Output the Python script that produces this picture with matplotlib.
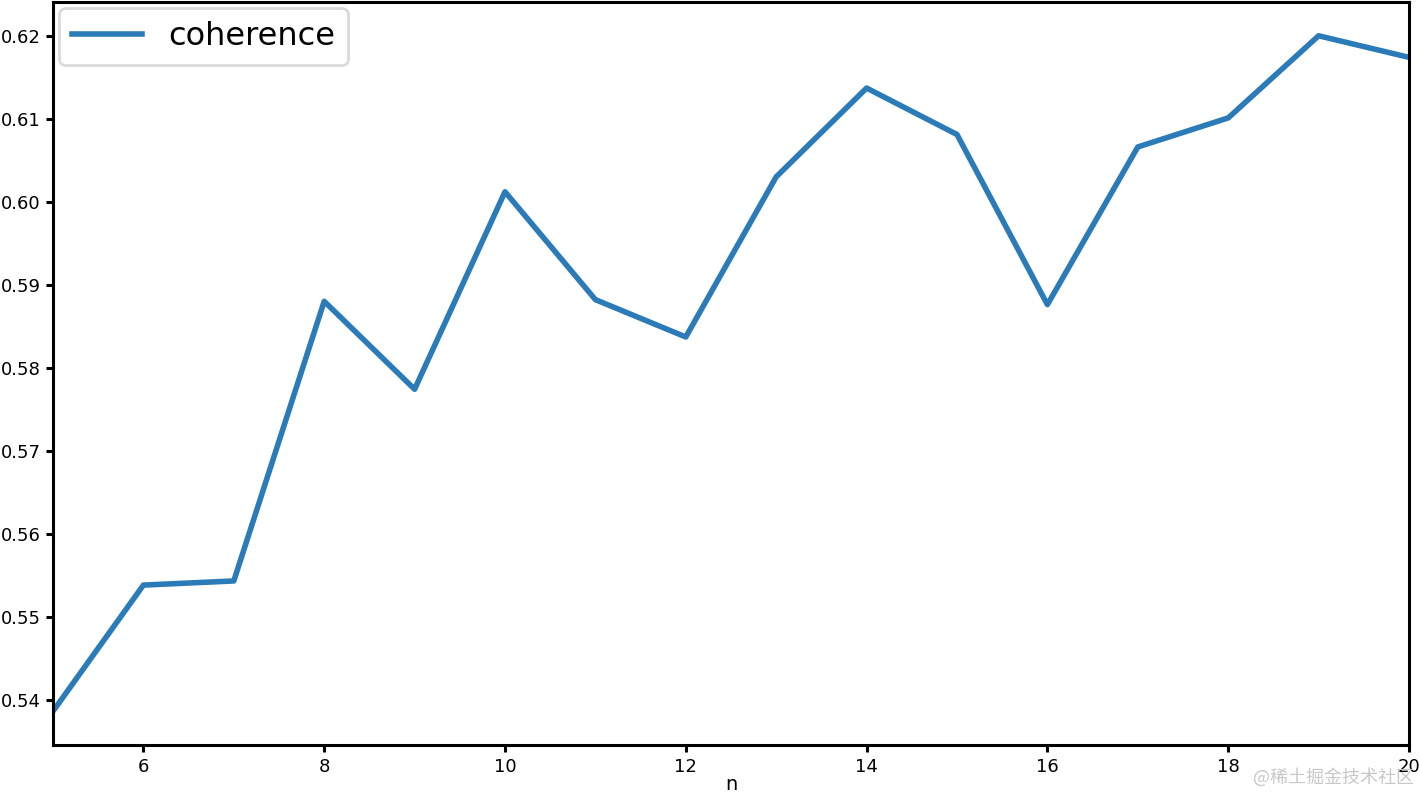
import matplotlib
matplotlib.use("Agg")
import matplotlib.pyplot as plt
import pandas as pd

n_values = [5, 6, 7, 8, 9, 10, 11, 12, 13, 14, 15, 16, 17, 18, 19, 20]
coherence = [0.5386, 0.5538, 0.5543, 0.5880, 0.5774, 0.6012, 0.5882, 0.5837,
             0.6030, 0.6137, 0.6081, 0.5876, 0.6066, 0.6101, 0.6200, 0.6174]
x_ticks = [6, 8, 10, 12, 14, 16, 18, 20]
y_ticks = [0.54, 0.55, 0.56, 0.57, 0.58, 0.59, 0.60, 0.61, 0.62]

df = pd.DataFrame({"coherence": coherence}, index=pd.Index(n_values, name="n"))

fig = plt.figure(figsize=(14.2, 7.95), dpi=100)
ax = fig.add_axes([53 / 1420, 1 - 745 / 795, (1409 - 53) / 1420, (745 - 2) / 795])
df.plot(ax=ax, color="#2b7bb9", linewidth=4)

ax.set_xlim(5, 20)
ax.set_xticks(x_ticks)
ax.set_yticks(y_ticks)
ax.set_yticklabels([f"{v:.2f}" for v in y_ticks])
ax.tick_params(axis="both", labelsize=13, length=5, width=2.2, pad=4)
for s in ax.spines.values():
    s.set_linewidth(2.2)
ax.set_xlabel("n", fontsize=14, labelpad=0)

leg = ax.legend(loc="upper left", fontsize=23, handlelength=2.2, borderaxespad=0.2,
                fancybox=True)
leg.get_frame().set_linewidth(2)
leg.get_frame().set_edgecolor("#d0d0d0")

fig.text(0.996, 0.022, "@稀土掘金技术社区", ha="right", va="center", fontsize=13,
         color="#c8c8c8", family=["Noto Sans CJK SC", "DejaVu Sans"])

fig.savefig("out.png", dpi=100)
